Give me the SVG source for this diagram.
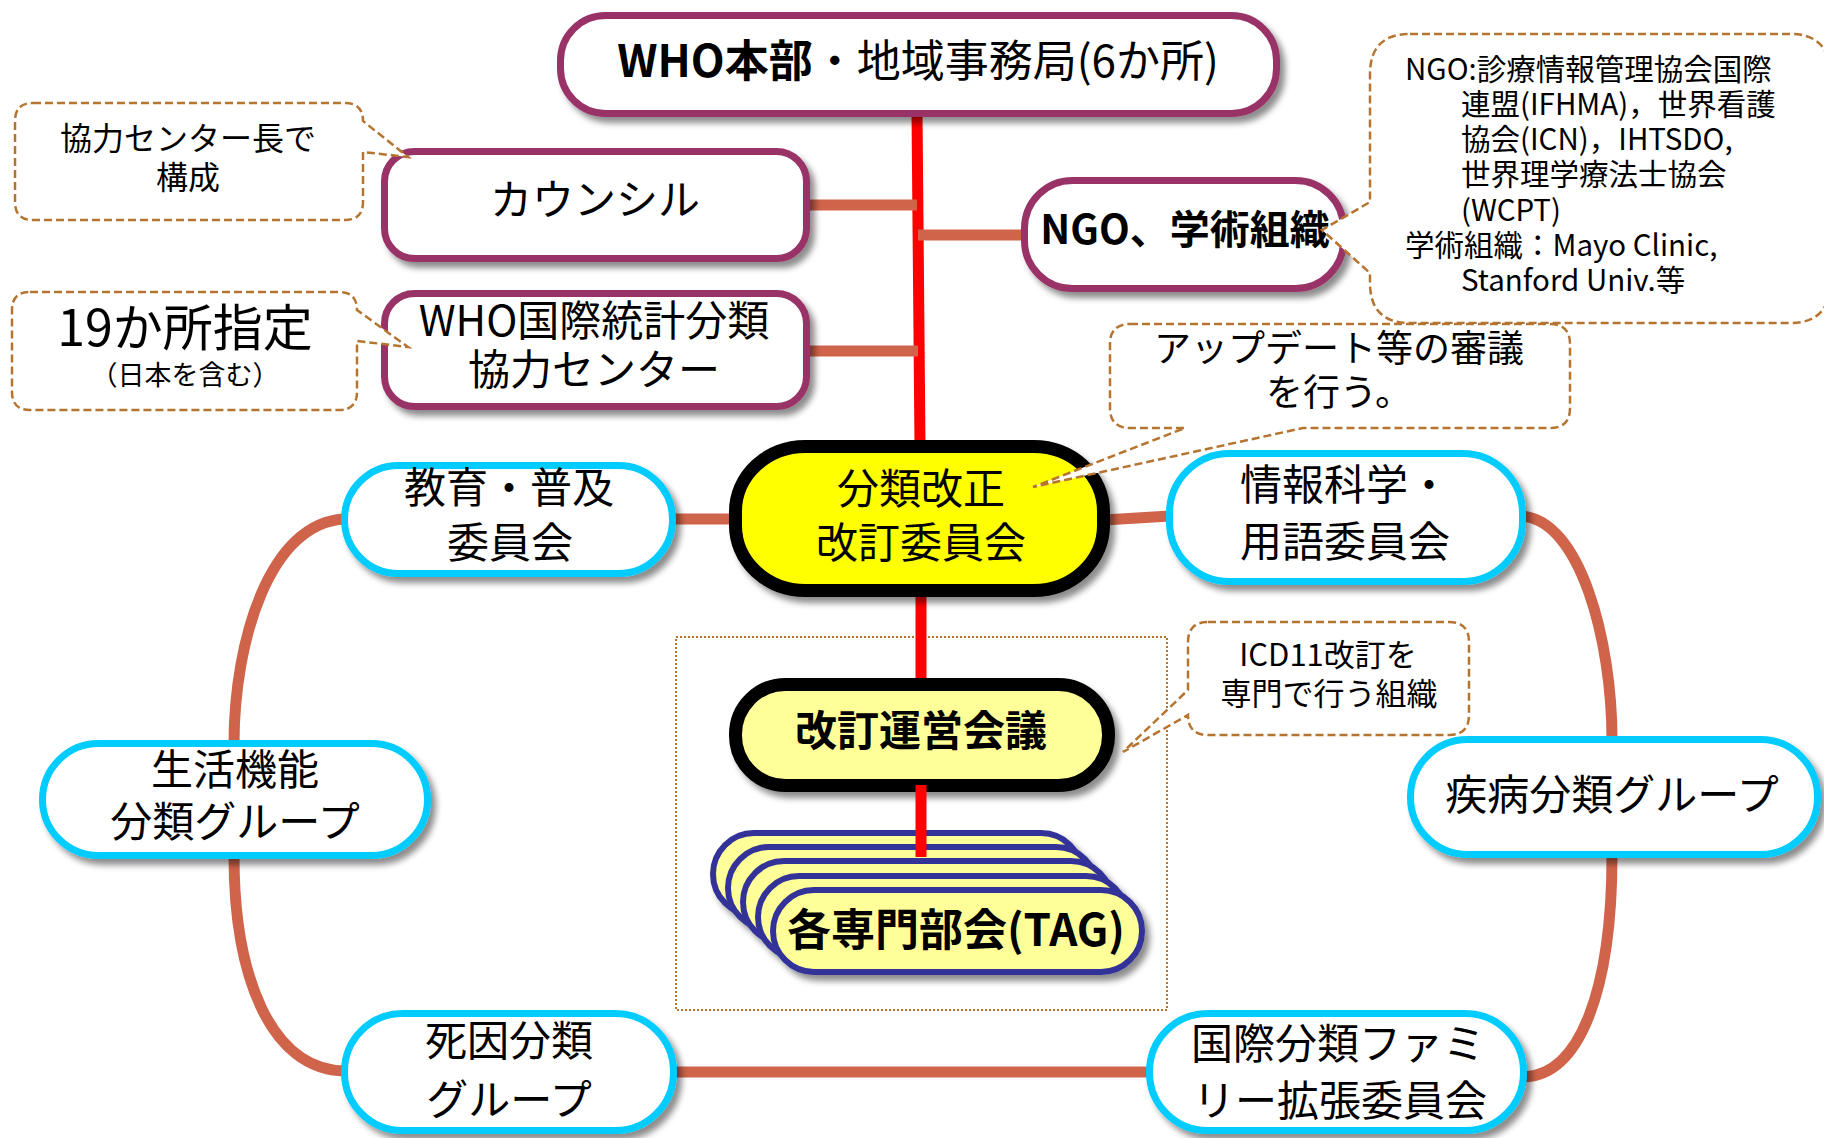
<svg xmlns="http://www.w3.org/2000/svg" width="1824" height="1138" viewBox="0 0 1824 1138">
<defs>
<filter id="sh" x="-10%" y="-20%" width="125%" height="150%">
<feDropShadow dx="5" dy="6" stdDeviation="3" flood-color="#000" flood-opacity="0.45"/>
</filter>
<style>
text{font-family:"Noto Sans CJK JP","Noto Sans",sans-serif;fill:#000}
.c{text-anchor:middle}
.b{font-weight:bold}
.pu{fill:#fff;stroke:#993366;stroke-width:7}
.cy{fill:#fff;stroke:#00CCFF;stroke-width:7}
.bk{stroke:#000;stroke-width:13}
.tag{fill:#FFFF99;stroke:#333399;stroke-width:6}
.co{fill:none;stroke:#D0644A;stroke-width:11}
.red{fill:none;stroke:#FF0000;stroke-width:11}
.call{fill:#fff;stroke:#B5742F;stroke-width:2.5;stroke-dasharray:8 4}
.f42{font-size:42px}
</style>
</defs>
<rect width="1824" height="1138" fill="#fff"/>
<rect id="frame" x="676" y="637" width="491" height="373" fill="none" stroke="#B5742F" stroke-width="2" stroke-dasharray="2 2"/>
<g id="connectors">
<path class="red" d="M917,112 L920,446"/>
<path class="red" d="M921,590 L921,684"/>
<path class="co" d="M806,205 H917"/>
<path class="co" d="M806,351 H918"/>
<path class="co" d="M918,235 H1025"/>
<path class="co" d="M672,519 H737"/>
<path class="co" d="M1104,520 L1170,516"/>
<path class="co" d="M345,519 C270,522 234,640 234,744"/>
<path class="co" d="M234,856 C234,975 270,1070 345,1071"/>
<path class="co" d="M673,1072 H1150"/>
<path class="co" d="M1522,516 C1580,520 1612,640 1612,740"/>
<path class="co" d="M1612,855 C1612,990 1580,1076 1523,1077"/>
</g>
<g id="who"><rect class="pu" filter="url(#sh)" x="560.5" y="15.5" width="716" height="98" rx="45"/>
<text class="c" x="918" y="77" font-size="44"><tspan font-weight="bold">WHO本部</tspan>・地域事務局(6か所)</text></g>
<g id="council"><rect class="pu" filter="url(#sh)" x="384.5" y="151.5" width="422" height="107" rx="30"/>
<text class="c f42" x="595" y="215">カウンシル</text></g>
<g id="whofic"><rect class="pu" filter="url(#sh)" x="384.5" y="293.5" width="422" height="113" rx="30"/>
<text class="c f42" x="594" y="336">WHO国際統計分類</text>
<text class="c f42" x="594" y="385">協力センター</text></g>
<g id="ngo"><rect class="pu" filter="url(#sh)" x="1024.5" y="180.5" width="319" height="108" rx="48"/>
<text class="c b" x="1185" y="244" font-size="40">NGO、学術組織</text></g>
<g id="ruc"><rect class="bk" fill="#FFFF00" filter="url(#sh)" x="735.5" y="446.5" width="368" height="144" rx="70" ry="65"/>
<text class="c f42" x="921" y="504">分類改正</text>
<text class="c f42" x="921" y="558">改訂委員会</text></g>
<g id="edu"><rect class="cy" filter="url(#sh)" x="344.5" y="465.5" width="328" height="108" rx="54"/>
<text class="c f42" x="509" y="503">教育・普及</text>
<text class="c f42" x="510" y="558">委員会</text></g>
<g id="info"><rect class="cy" filter="url(#sh)" x="1169.5" y="453.5" width="353" height="128" rx="60"/>
<text class="c f42" x="1345" y="500">情報科学・</text>
<text class="c f42" x="1345" y="557">用語委員会</text></g>
<g id="fdrg"><rect class="cy" filter="url(#sh)" x="42.5" y="743.5" width="385" height="112" rx="56"/>
<text class="c f42" x="235" y="785">生活機能</text>
<text class="c f42" x="235" y="837">分類グループ</text></g>
<g id="mbrg"><rect class="cy" filter="url(#sh)" x="1410.5" y="739.5" width="407" height="115" rx="57"/>
<text class="c f42" x="1612" y="810">疾病分類グループ</text></g>
<g id="mrg"><rect class="cy" filter="url(#sh)" x="344.5" y="1013.5" width="329" height="117" rx="58"/>
<text class="c f42" x="509" y="1056">死因分類</text>
<text class="c f42" x="509" y="1115">グループ</text></g>
<g id="fic"><rect class="cy" filter="url(#sh)" x="1149.5" y="1013.5" width="374" height="117" rx="58"/>
<text class="c f42" x="1338" y="1059">国際分類ファミ</text>
<text class="c f42" x="1340" y="1116">リー拡張委員会</text></g>
<g id="rsg"><rect class="bk" fill="#FFFF99" filter="url(#sh)" x="735.5" y="684.5" width="373" height="101" rx="50"/>
<text class="c b f42" x="921" y="746">改訂運営会議</text></g>
<g id="tag">
<g filter="url(#sh)">
<rect class="tag" x="713" y="833" width="369" height="82" rx="41"/>
<rect class="tag" x="728" y="847" width="369" height="82" rx="41"/>
<rect class="tag" x="743" y="861" width="369" height="82" rx="41"/>
<rect class="tag" x="758" y="876" width="369" height="82" rx="41"/>
<rect class="tag" x="773" y="890" width="369" height="82" rx="41"/>
</g>
<path class="red" d="M921,785 L921,857"/>
<text class="c b" x="956" y="946" font-size="44">各専門部会(TAG)</text>
</g>
<g id="callouts">
<g id="call1"><path class="call" d="M33,103 H345 Q363,103 363,121 L408,157 L363,152 V202 Q363,220 345,220 H33 Q15,220 15,202 V121 Q15,103 33,103 Z"/>
<text class="c" x="188" y="150" font-size="32">協力センター長で</text>
<text class="c" x="188" y="189" font-size="32">構成</text></g>
<g id="call2"><path class="call" d="M30,292 H339 Q357,292 357,310 L408,347 L357,341 V392 Q357,410 339,410 H30 Q12,410 12,392 V310 Q12,292 30,292 Z"/>
<text class="c" x="185" y="346" font-size="50">19か所指定</text>
<text class="c" x="185" y="385" font-size="27">（日本を含む）</text></g>
<g id="call3"><path class="call" d="M1410,34 H1790 Q1830,34 1830,74 V283 Q1830,323 1790,323 H1410 Q1370,323 1370,283 V273 L1322,230 L1370,202 V74 Q1370,34 1410,34 Z"/>
<g font-size="29.5">
<text x="1405" y="80">NGO:診療情報管理協会国際</text>
<text x="1461" y="115">連盟(IFHMA)，世界看護</text>
<text x="1461" y="150">協会(ICN)，IHTSDO,</text>
<text x="1461" y="185">世界理学療法士協会</text>
<text x="1461" y="221">(WCPT)</text>
<text x="1405" y="256">学術組織：Mayo Clinic,</text>
<text x="1461" y="291">Stanford Univ.等</text>
</g></g>
<g id="call4"><path class="call" d="M1130,324 H1550 Q1570,324 1570,344 V408 Q1570,428 1550,428 H1303 L1033,487 L1185,428 H1130 Q1110,428 1110,408 V344 Q1110,324 1130,324 Z"/>
<text class="c" x="1339" y="362" font-size="37">アップデート等の審議</text>
<text class="c" x="1339" y="406" font-size="37">を行う。</text></g>
<g id="call5"><path class="call" d="M1208,622 H1449 Q1469,622 1469,642 V715 Q1469,735 1449,735 H1208 Q1188,735 1188,715 L1123,752 L1188,690 V642 Q1188,622 1208,622 Z"/>
<text class="c" x="1328" y="666" font-size="31">ICD11改訂を</text>
<text class="c" x="1329" y="705" font-size="31">専門で行う組織</text></g>
</g>
</svg>
